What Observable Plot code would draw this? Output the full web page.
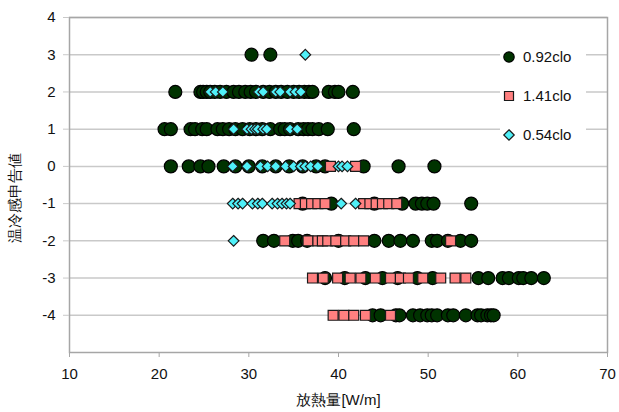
<!DOCTYPE html>
<html>
<head>
<meta charset="utf-8">
<script src="https://cdn.jsdelivr.net/npm/d3@7"></script>
<script src="https://cdn.jsdelivr.net/npm/@observablehq/plot@0.6"></script>
<style>
  body { margin: 0; background: #fff; }
  #wrap { position: relative; width: 619px; height: 412px; }
  #legend { position: absolute; left: 500px; top: 38px; width: 86px; height: 114px; background: #fff; }
</style>
</head>
<body>
<div id="wrap"><div id="chart"></div><div id="legend"></div></div>
<script>
// Sensation levels (y) and heat release values (x) per series
const levels = [3, 2, 1, 0, -1, -2, -3, -4];

// 0.92clo
const heat092 = [
  [30.3, 32.4],
  [21.8, 24.6, 24.9, 25.3, 25.7, 26.2, 26.8, 27.5, 28.3, 28.9, 29.6, 30.2, 30.8, 31.6, 32.3, 33.0, 33.6, 34.3, 35.0, 35.6, 36.2, 36.7, 37.1, 38.9, 39.6, 40.0, 41.6],
  [20.6, 21.3, 23.5, 24.0, 24.8, 25.3, 26.5, 27.1, 27.8, 28.5, 29.3, 30.1, 30.8, 31.5, 32.4, 33.5, 34.0, 34.6, 35.5, 36.1, 36.6, 37.1, 37.8, 38.8, 41.7],
  [21.3, 23.3, 24.6, 25.5, 27.2, 28.5, 30.0, 31.5, 33.0, 34.5, 36.0, 37.5, 38.5, 42.8, 46.7, 50.7],
  [36.0, 39.2, 44.0, 47.1, 48.6, 49.3, 49.9, 50.6, 54.8],
  [31.6, 32.8, 34.9, 35.5, 36.5, 40.0, 44.0, 45.6, 46.9, 48.3, 50.4, 51.0, 52.2, 53.6, 54.8],
  [38.5, 40.7, 43.0, 44.9, 46.6, 48.8, 50.5, 55.6, 56.7, 58.3, 59.0, 60.1, 60.6, 61.5, 62.9],
  [43.8, 44.7, 46.4, 46.8, 48.3, 49.1, 49.9, 50.4, 51.0, 52.2, 52.8, 54.2, 55.5, 55.9, 56.6, 57.0, 57.3]
];

// 1.41clo
const heat141 = [
  [],
  [],
  [],
  [39.1, 41.9],
  [35.6, 36.3, 37.0, 37.7, 38.5, 42.8, 43.5, 44.2, 44.9, 45.6, 46.5],
  [34.0, 36.6, 37.7, 38.2, 38.8, 39.7, 40.8, 41.7, 42.8, 52.5],
  [37.1, 38.3, 39.9, 41.3, 42.5, 44.1, 45.8, 46.9, 47.8, 49.4, 51.4, 53.0, 54.2],
  [39.4, 40.6, 41.7, 43.0, 45.8]
];

// 0.54clo
const heat054 = [
  [36.3],
  [25.7, 26.3, 27.1, 31.1, 31.6, 33.0, 33.5, 34.6, 35.2, 35.8],
  [28.3, 29.8, 30.3, 30.7, 31.0, 31.6, 32.0, 34.6, 35.4],
  [28.2, 29.8, 31.3, 32.1, 33.0, 34.1, 35.0, 35.8, 36.3, 36.9, 37.7, 40.0, 40.4, 41.0],
  [28.2, 28.8, 29.3, 30.4, 31.0, 31.5, 32.6, 33.2, 33.7, 34.2, 34.6, 40.3, 41.9],
  [28.3],
  [],
  []
];

const xTicks = [10, 20, 30, 40, 50, 60, 70];
const yTicks = [4, 3, 2, 1, 0, -1, -2, -3, -4];
const seriesNames = ["0.92clo", "1.41clo", "0.54clo"];

function rows(lists) {
  const out = [];
  lists.forEach((xs, i) => xs.forEach(x => out.push({x, y: levels[i]})));
  return out;
}
const d092 = rows(heat092), d141 = rows(heat141), d054 = rows(heat054);

const font = "'Liberation Sans', Arial, Helvetica, sans-serif";

const chart = Plot.plot({
  width: 619,
  height: 412,
  marginLeft: 69,
  marginRight: 12,
  marginTop: 17,
  marginBottom: 60,
  style: {fontFamily: font, fontSize: "15px", color: "#111", background: "#fff"},
  x: {domain: [10, 70]},
  y: {domain: [-5, 4]},
  marks: [
    Plot.gridY(yTicks, {stroke: "#c9c9c9", strokeOpacity: 1, strokeWidth: 1.5}),
    Plot.frame({stroke: "#a6a6a6", strokeWidth: 1.5}),
    Plot.axisY({ticks: yTicks, tickSize: 6, tickPadding: 8, stroke: "#c9c9c9", fill: "#111", fontSize: 15, label: null, tickFormat: d => String(d).replace("\u2212", "-")}),
    Plot.axisX({ticks: xTicks, tickSize: 5, tickPadding: 11, stroke: "#a6a6a6", fill: "#111", fontSize: 15, label: null}),
    Plot.dot(d092, {x: "x", y: "y", symbol: "circle", r: 6.5, fill: "#003300", stroke: "#000", strokeWidth: 1.2}),
    Plot.dot(d141, {x: "x", y: "y", symbol: "square", r: 5.6, fill: "#ff8080", stroke: "#1a1a1a", strokeWidth: 1.2}),
    Plot.dot(d054, {x: "x", y: "y", symbol: "diamond2", r: 4.8, fill: "#4ff0f8", stroke: "#1a1a1a", strokeWidth: 1.2}),
    Plot.text(["放熱量[W/m]"], {frameAnchor: "bottom", dy: 48, lineAnchor: "middle", fontSize: 15, fill: "#111"}),
    Plot.text(["温冷感申告値"], {frameAnchor: "left", textAnchor: "middle", dx: -54, dy: 13, rotate: -90, lineAnchor: "middle", fontSize: 15, fill: "#111"})
  ]
});
document.getElementById("chart").appendChild(chart);

// Legend
const lg = d3.select("#legend").append("svg").attr("width", 86).attr("height", 114)
  .style("font-family", font).style("font-size", "15px");
const symbols = [
  {sym: d3.symbolCircle, size: Math.PI * 5.2 * 5.2, fill: "#003300", stroke: "#000"},
  {sym: d3.symbolSquare, size: 81, fill: "#ff8080", stroke: "#1a1a1a"},
  {sym: d3.symbolDiamond2, size: 70, fill: "#4ff0f8", stroke: "#1a1a1a"}
];
seriesNames.forEach((name, i) => {
  const cy = 19 + i * 39;
  lg.append("path").attr("transform", `translate(9,${cy})`)
    .attr("d", d3.symbol(symbols[i].sym, symbols[i].size)())
    .attr("fill", symbols[i].fill).attr("stroke", symbols[i].stroke).attr("stroke-width", 1.2);
  lg.append("text").attr("x", 23).attr("y", cy).attr("dy", "0.35em").attr("fill", "#111").text(name);
});
</script>
</body>
</html>
